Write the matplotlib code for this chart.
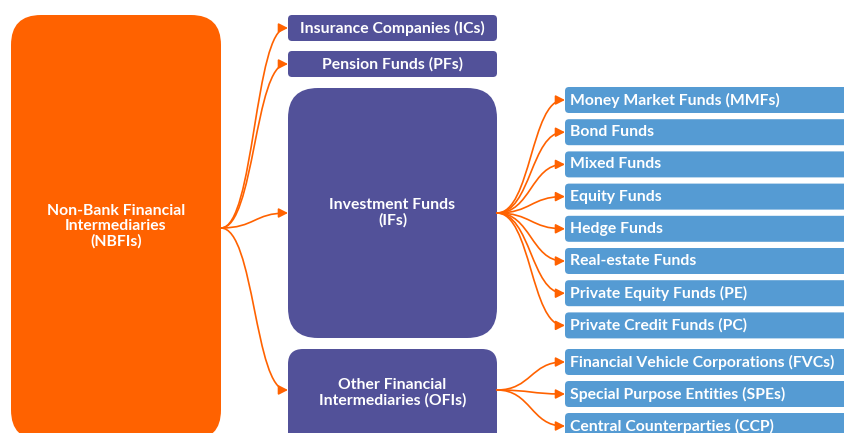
import matplotlib.pyplot as plt
from matplotlib.patches import FancyBboxPatch, FancyArrowPatch
from matplotlib.path import Path

plt.rcParams['font.family'] = ['Lato', 'DejaVu Sans']

root_label = "Non-Bank Financial\nIntermediaries\n(NBFIs)"
small_labels = ["Insurance Companies (ICs)", "Pension Funds (PFs)"]
if_label = "Investment Funds\n(IFs)"
ofi_label = "Other Financial\nIntermediaries (OFIs)"
if_children = ["Money Market Funds (MMFs)", "Bond Funds", "Mixed Funds", "Equity Funds",
               "Hedge Funds", "Real-estate Funds", "Private Equity Funds (PE)",
               "Private Credit Funds (PC)"]
ofi_children = ["Financial Vehicle Corporations (FVCs)", "Special Purpose Entities (SPEs)",
                "Central Counterparties (CCP)"]

ORANGE = "#FF6200"
PURPLE = "#525199"
BLUE = "#559BD3"

fig = plt.figure(figsize=(8.45, 4.33), dpi=100)
ax = fig.add_axes([0, 0, 1, 1])
ax.set_xlim(0, 845)
ax.set_ylim(433, 0)
ax.axis('off')


def box(x, y, w, h, color, r):
    p = FancyBboxPatch((x, y), w, h, boxstyle=f"round,pad=0,rounding_size={r}",
                       fc=color, ec='none')
    ax.add_patch(p)


def arrow(x0, y0, x1, y1):
    xm = x0 + (x1 - x0) * 0.5
    path = Path([(x0, y0), (xm, y0), (xm, y1), (x1, y1)],
                [Path.MOVETO, Path.CURVE4, Path.CURVE4, Path.CURVE4])
    a = FancyArrowPatch(path=path, arrowstyle='-|>,head_length=5.5,head_width=2.8',
                        color=ORANGE, lw=1.2, shrinkA=0, shrinkB=0)
    ax.add_patch(a)


txt = dict(color='white', fontweight='bold', fontsize=11.3)

# root
box(11, 15, 210, 425, ORANGE, 30)
ax.text(116, 226, root_label, ha='center', va='center', linespacing=1.08, **txt)

# second level
small_y = [15, 51]
for lab, y in zip(small_labels, small_y):
    box(288, y, 209, 26, PURPLE, 4)
    ax.text(392.5, y + 13, lab, ha='center', va='center', **txt)
    arrow(221, 228, 288, y + 13)

box(288, 88, 209, 250, PURPLE, 30)
ax.text(392.5, 213, if_label, ha='center', va='center', linespacing=1.05, **txt)
arrow(221, 228, 288, 213)

box(288, 349, 209, 100, PURPLE, 15)
ax.text(392.5, 393, ofi_label, ha='center', va='center', linespacing=1.05, **txt)
arrow(221, 228, 288, 390)

# third level
for i, lab in enumerate(if_children):
    y = 87 + i * 32.2
    box(565, y, 320, 26, BLUE, 4)
    ax.text(570, y + 13, lab, ha='left', va='center', **txt)
    arrow(497, 213, 565, y + 13)

for i, lab in enumerate(ofi_children):
    y = 349 + i * 32
    box(565, y, 320, 26, BLUE, 4)
    ax.text(570, y + 13, lab, ha='left', va='center', **txt)
    arrow(497, 390, 565, y + 13)

fig.savefig("out.png", dpi=100)
